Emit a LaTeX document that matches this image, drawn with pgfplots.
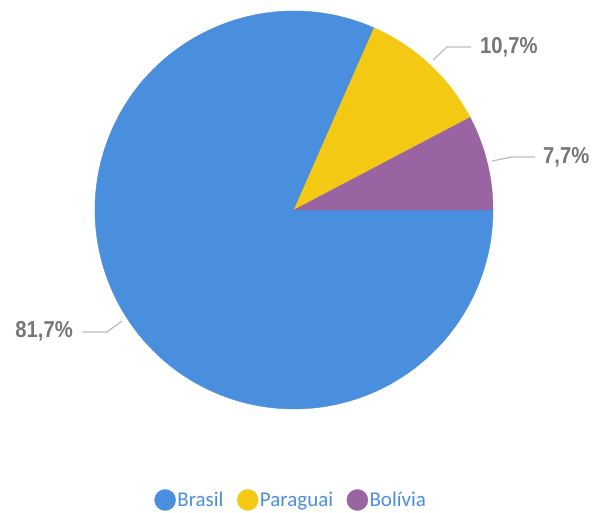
\documentclass[border=0pt]{standalone}
\usepackage{pgfplots}
\pgfplotsset{compat=1.18}
\usepackage{fontspec}
\setmainfont{Carlito}
\newfontfamily\lblfont[FakeStretch=0.88]{Liberation Sans}
\definecolor{cBrasil}{HTML}{4A8FDE}
\definecolor{cParaguai}{HTML}{F3C913}
\definecolor{cBolivia}{HTML}{9A63A2}
\definecolor{cLabel}{HTML}{767676}
\definecolor{cLeader}{HTML}{BDBDBD}

% one slice per plot: point = centre, start/val in percent
\pgfplotsset{
  pieslice/.style={
    scatter, only marks, mark=*, mark size=0pt,
    mark options={draw=none, fill=none},
    visualization depends on={\thisrow{start} \as \pstart},
    visualization depends on={\thisrow{val} \as \pval},
    scatter/@pre marker code/.code={
      \pgfmathsetmacro\aone{3.6*\pstart}
      \pgfmathsetmacro\atwo{3.6*(\pstart+\pval)}
      \fill[#1, overlay] (0pt,0pt) -- (\aone:199pt)
        arc[start angle=\aone, end angle=\atwo, radius=199pt] -- cycle;
    },
    scatter/@post marker code/.code={},
    legend image code/.code={\fill[#1] (0pt,0pt) circle (10.5pt);},
  },
  leader/.style={cLeader, line width=1.2pt, no marks, forget plot},
}

\begin{document}
\begin{tikzpicture}
\begin{axis}[
  x=1pt, y=1pt,
  xmin=0, xmax=595, ymin=0, ymax=511,
  hide axis, clip=false,
  legend columns=3,
  legend style={at={(axis cs:291,11)}, anchor=center, draw=none, fill=none,
    font=\fontsize{21}{24}\selectfont, text=cBrasil,
    nodes={inner sep=1.5pt},
    /tikz/every even column/.append style={column sep=12pt}},
]
% keep the full canvas as bounding box
\path (axis cs:0,0) rectangle (axis cs:595,511);

\addplot[pieslice=cBrasil] table {
x y start val
294 301 18.4 81.7
};
\addlegendentry{Brasil}
\addplot[pieslice=cParaguai] table {
x y start val
294 301 7.7 10.7
};
\addlegendentry{Paraguai}
\addplot[pieslice=cBolivia] table {
x y start val
294 301 0 7.7
};
\addlegendentry{Bolívia}

% leader lines
\addplot[leader] coordinates {(433,451) (447,464) (471,464)};
\addplot[leader] coordinates {(492,350) (512,354) (535,354)};
\addplot[leader] coordinates {(122,190) (107,179) (82,179)};

\node[anchor=west, text=cLabel, font=\lblfont\bfseries\fontsize{23}{26}\selectfont, inner sep=0pt]
  at (axis cs:480,464) {10,7\%};
\node[anchor=west, text=cLabel, font=\lblfont\bfseries\fontsize{23}{26}\selectfont, inner sep=0pt]
  at (axis cs:543,354) {7,7\%};
\node[anchor=east, text=cLabel, font=\lblfont\bfseries\fontsize{23}{26}\selectfont, inner sep=0pt]
  at (axis cs:73,180) {81,7\%};
\end{axis}
\end{tikzpicture}
\end{document}
